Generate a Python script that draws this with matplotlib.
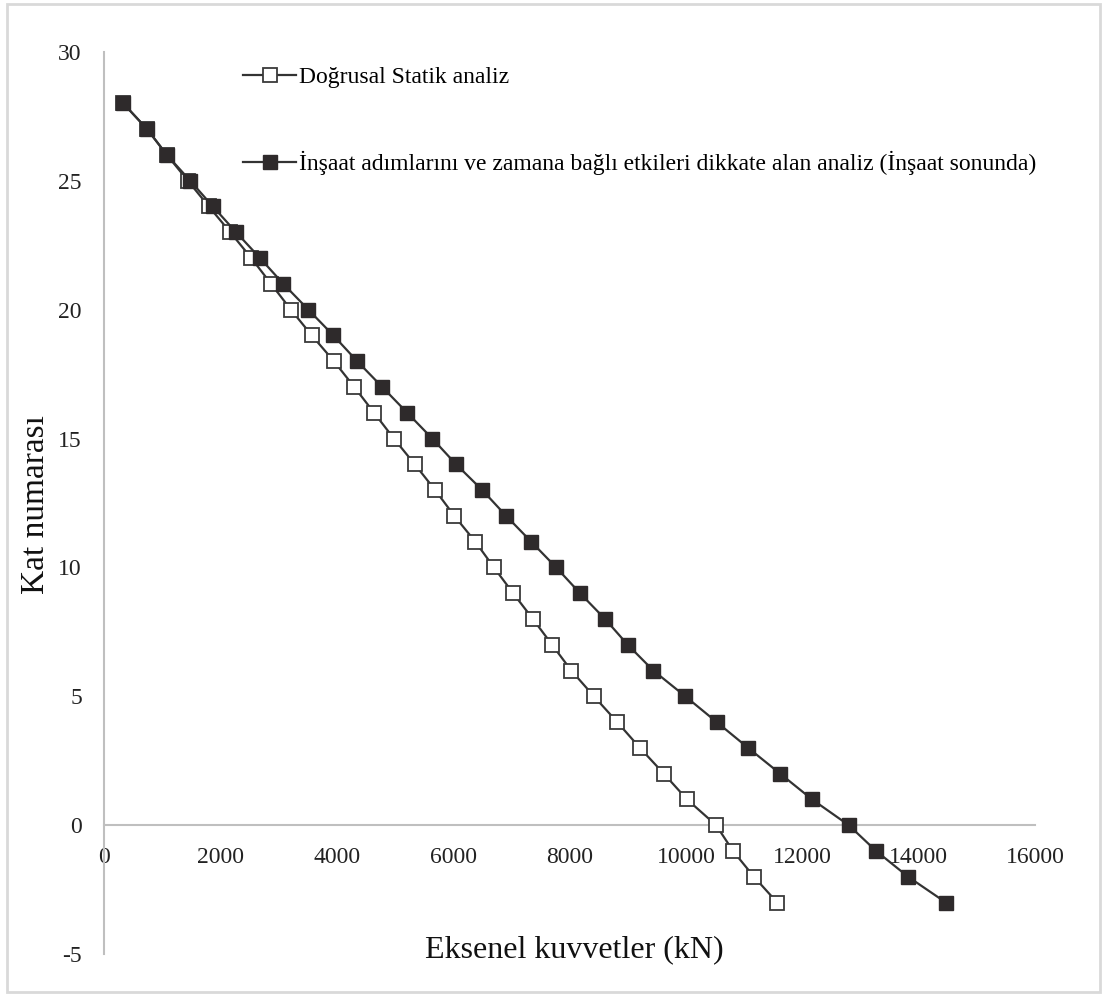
import matplotlib.pyplot as plt
from matplotlib.patches import Rectangle

plt.rcParams['font.family'] = ['Liberation Serif', 'DejaVu Serif']
plt.rcParams['axes.unicode_minus'] = False

# kat numarasi (floor number)
floors = list(range(28, -4, -1))

# Dogrusal statik analiz (kN)
static_force = [330, 740, 1080, 1440, 1800, 2170, 2530, 2870, 3210, 3570,
                3950, 4300, 4640, 4980, 5340, 5690, 6020, 6380, 6700, 7030,
                7370, 7700, 8030, 8420, 8820, 9210, 9620, 10020, 10520,
                10810, 11170, 11570]

# insaat adimlari + zamana bagli etkiler (kN)
staged_force = [330, 740, 1080, 1480, 1870, 2270, 2680, 3080, 3510, 3940,
                4350, 4780, 5210, 5640, 6050, 6500, 6910, 7340, 7770, 8180,
                8610, 9000, 9440, 9990, 10530, 11070, 11620, 12170, 12800,
                13270, 13820, 14470]

labels = [
    'Doğrusal Statik analiz',
    'İnşaat adımlarını ve zamana bağlı etkileri dikkate alan analiz '
    '(İnşaat sonunda)',
]

line_col = '#333333'
fill_col = '#2e2a2b'
axis_col = '#bfbfbf'

fig = plt.figure(figsize=(11.07, 9.96), dpi=100)
ax = fig.add_axes([0.094, 0.042, 0.841, 0.906])

ax.plot(static_force, floors, color=line_col, lw=1.6, marker='s',
        markersize=10, markerfacecolor='white', markeredgecolor='#3a3a3a',
        markeredgewidth=1.3, label=labels[0], zorder=3)
ax.plot(staged_force, floors, color=line_col, lw=1.6, marker='s',
        markersize=10, markerfacecolor=fill_col, markeredgecolor=fill_col,
        markeredgewidth=1, label=labels[1], zorder=4)

ax.set_xlim(0, 16000)
ax.set_ylim(-5, 30)
ax.set_xticks(range(0, 16001, 2000))
ax.set_yticks(range(-5, 31, 5))

for s in ['top', 'right']:
    ax.spines[s].set_visible(False)
ax.spines['bottom'].set_position(('data', 0))
for s in ['left', 'bottom']:
    ax.spines[s].set_color(axis_col)
    ax.spines[s].set_linewidth(1.5)
ax.tick_params(axis='both', length=0, labelsize=17, colors='#222222')
ax.tick_params(axis='y', pad=16)
ax.tick_params(axis='x', pad=16)

fig.text(0.519, 0.046, 'Eksenel kuvvetler (kN)', fontsize=23,
         ha='center', va='center', color='#111111')
fig.text(0.032, 0.493, 'Kat numarası', fontsize=24, rotation=90,
         ha='center', va='center', color='#111111')

ax.legend(loc='upper left', bbox_to_anchor=(0.2195, 0.933),
          bbox_transform=fig.transFigure, frameon=False, fontsize=17,
          handlelength=2.25, handletextpad=0.12, labelspacing=2.65,
          borderpad=0, borderaxespad=0, markerscale=0.95)

fig.patches.append(Rectangle((0.006, 0.004), 0.988, 0.992, fill=False,
                             edgecolor='#d9d9d9', lw=2,
                             transform=fig.transFigure, figure=fig))

fig.savefig('out.png', dpi=100)
